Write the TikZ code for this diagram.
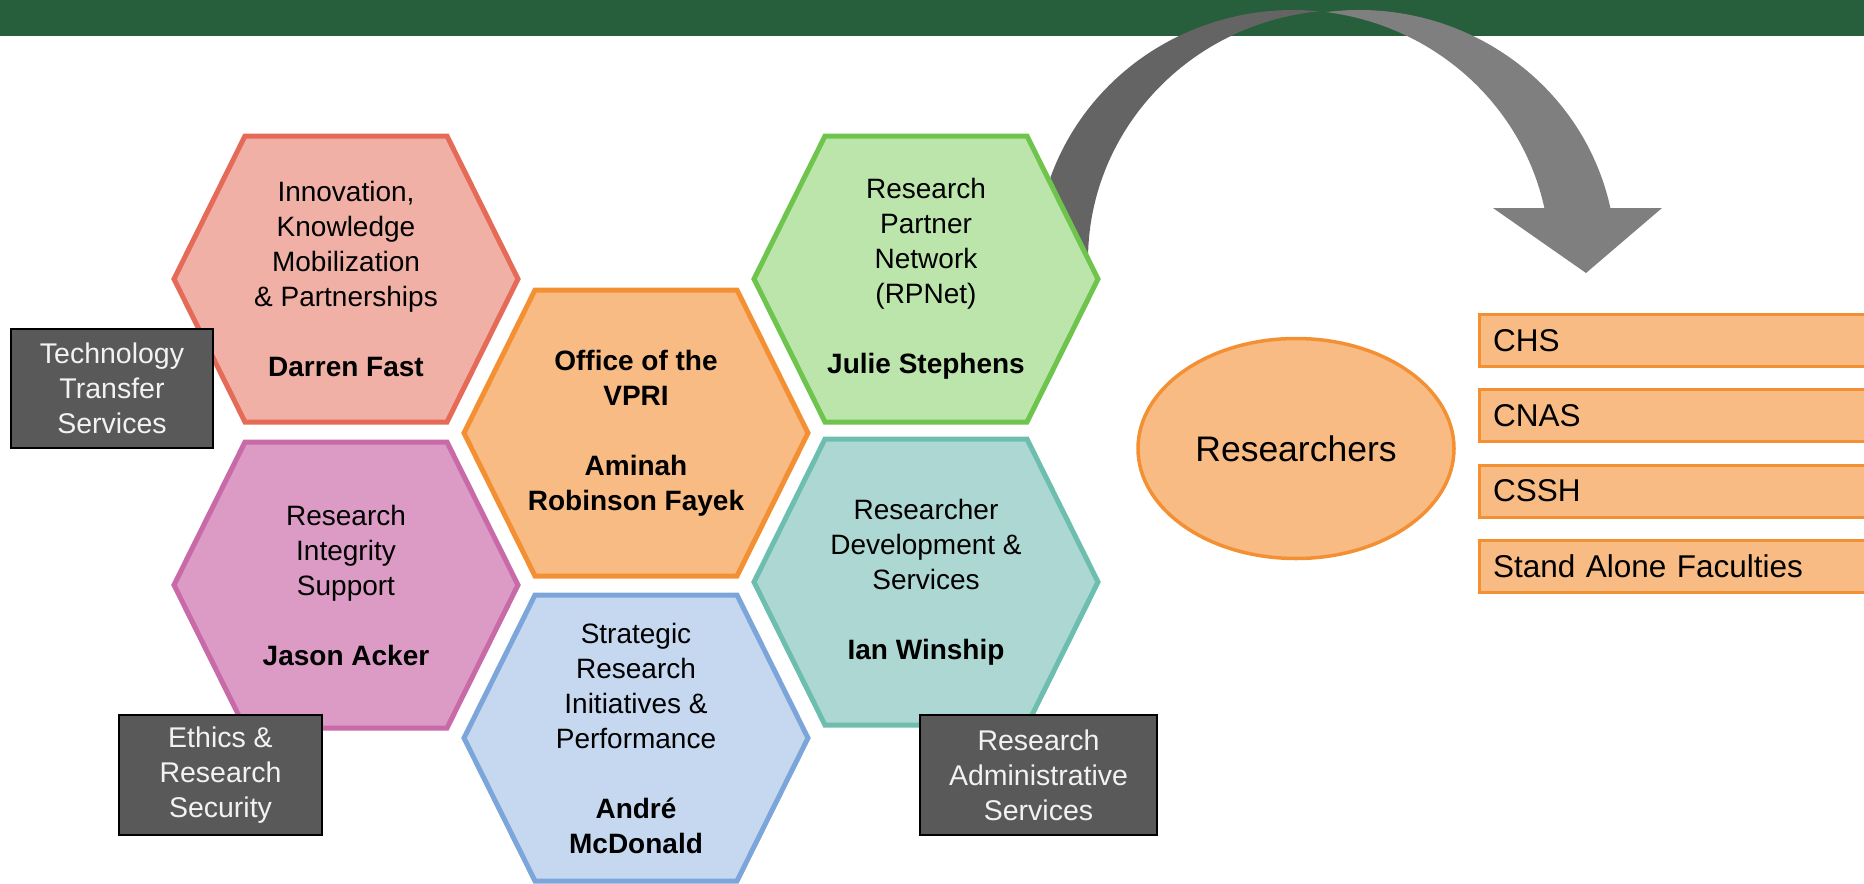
\documentclass[tikz,border=0pt]{standalone}
\usepackage{fontspec}
\setmainfont{Liberation Sans}
\usetikzlibrary{shapes.geometric,calc}

\definecolor{barGreen}{HTML}{275E3B}
\definecolor{arrowDark}{HTML}{646464}
\definecolor{arrowLight}{HTML}{7F7F7F}
\definecolor{boxGray}{HTML}{595959}
\definecolor{ikmFill}{HTML}{F0B0A6}
\definecolor{ikmLine}{HTML}{E56B58}
\definecolor{vpriFill}{HTML}{F8BB83}
\definecolor{vpriLine}{HTML}{F49034}
\definecolor{rpnFill}{HTML}{BCE5AC}
\definecolor{rpnLine}{HTML}{6EC44C}
\definecolor{risFill}{HTML}{DB9BC5}
\definecolor{risLine}{HTML}{C869A8}
\definecolor{rdsFill}{HTML}{ADD7D2}
\definecolor{rdsLine}{HTML}{6EBEB0}
\definecolor{sripFill}{HTML}{C5D8EF}
\definecolor{sripLine}{HTML}{7CA6D9}

% one honeycomb cell: centre, fill, border
\newcommand{\hexcell}[3]{%
  \filldraw[hexline,fill=#2,draw=#3] (#1) ++(-172,0) -- ++(71,-143) -- ++(202,0)
    -- ++(71,143) -- ++(-71,143) -- ++(-202,0) -- cycle;}

\begin{document}
\begin{tikzpicture}[x=1bp,y=-1bp]
\tikzset{hexline/.style={line width=5bp}}
\tikzset{hextext/.style={align=center,font=\fontsize{28bp}{35bp}\selectfont}}
\tikzset{darkbox/.style={draw=black,line width=2bp,fill=boxGray,text=white!95!black,
  align=center,inner sep=0pt,font=\fontsize{28.5bp}{35bp}\selectfont}}
\tikzset{facbox/.style={draw=vpriLine,line width=3bp,fill=vpriFill,anchor=west,
  text width=392bp,inner xsep=14bp,inner ysep=0pt,minimum height=52bp,align=left,
  font=\fontsize{31.5bp}{36bp}\selectfont}}

\useasboundingbox (0,0) rectangle (1864,884);

% top band
\fill[barGreen] (0,0) rectangle (1864,36);

% curved arrow over to the researchers
\coordinate (outc) at (1293,260);
\coordinate (backc) at (1345,260);
\coordinate (frontc) at (1359,260);
\fill[arrowDark] ($(outc)+(177.7:257 and 250)$)
  arc[start angle=177.7,end angle=275.8,x radius=257,y radius=250]
  -- ($(backc)+(264.19:257 and 250)$)
  arc[start angle=264.19,end angle=177.7,x radius=257,y radius=250] -- cycle;
\fill[arrowLight] ($(frontc)+(262.62:257 and 250)$)
  arc[start angle=262.62,end angle=348,x radius=257,y radius=250]
  -- (1662,208) -- (1586,273) -- (1493,208) -- ($(outc)+(348:257 and 250)$)
  arc[start angle=348,end angle=277.38,x radius=257,y radius=250] -- cycle;

% honeycomb
\hexcell{346,279}{ikmFill}{ikmLine}
\hexcell{636,433}{vpriFill}{vpriLine}
\hexcell{926,279}{rpnFill}{rpnLine}
\hexcell{346,585}{risFill}{risLine}
\hexcell{926,582}{rdsFill}{rdsLine}
\hexcell{636,738}{sripFill}{sripLine}

\node[hextext] (ikm) at (346,279) {Innovation,\\Knowledge\\Mobilization\\\& Partnerships\\[35bp]\textbf{Darren Fast}};
\node[hextext,font=\fontsize{28bp}{35bp}\selectfont\bfseries] (vpri) at (636,433) {Office of the\\VPRI\\[35bp]Aminah\\Robinson Fayek};
\node[hextext] (rpnet) at (926,279) {Research\\Partner\\Network\\(RPNet)\\[35bp]\textbf{Julie Stephens}};
\node[hextext] (ris) at (346,585) {Research\\Integrity\\Support\\[35bp]\textbf{Jason Acker}};
\node[hextext] (rds) at (926,582) {Researcher\\Development \&\\Services\\[35bp]\textbf{Ian Winship}};
\node[hextext] (srip) at (636,738) {Strategic\\Research\\Initiatives \&\\Performance\\[35bp]\textbf{André}\\\textbf{McDonald}};

% units under the portfolios
\node[darkbox,minimum width=202bp,minimum height=119bp] (tts) at (112,388.5) {Technology\\Transfer\\Services};
\node[darkbox,minimum width=203bp,minimum height=120bp] (ers) at (220.5,775) {Ethics \&\\Research\\Security};
\node[darkbox,minimum width=237bp,minimum height=120bp] (ras) at (1038.5,775) {Research\\Administrative\\Services};

% researchers and faculties
\node[ellipse,draw=vpriLine,line width=3.5bp,fill=vpriFill,minimum width=316bp,minimum height=220bp,
  inner sep=0pt,font=\fontsize{35.5bp}{40bp}\selectfont] (res) at (1296,448.5) {Researchers};

\foreach \nm/\lbl/\yy in {chs/CHS/340.5,cnas/CNAS/415.5,cssh/CSSH/491,saf/Stand Alone Faculties/566}
  \node[facbox] (\nm) at (1477.5,\yy) {\lbl};

\end{tikzpicture}
\end{document}
